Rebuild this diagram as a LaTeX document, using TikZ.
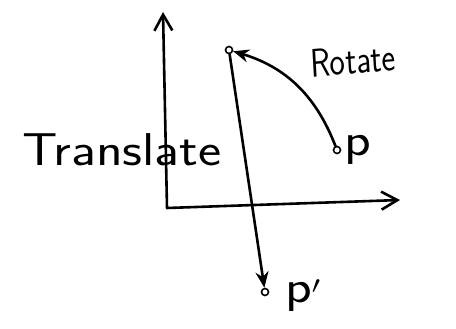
\documentclass[tikz,border=0pt]{standalone}
\usetikzlibrary{arrows.meta}
\begin{document}
\begin{tikzpicture}[x=1pt, y=-1pt, line width=2.6pt, line cap=round,
    dot/.style={circle, draw, inner sep=0pt, minimum size=7pt, line width=1.6pt},
    hand/.style={font=\sffamily\fontsize{46}{50}\selectfont, xscale=1.2}]
  \useasboundingbox (0,0) rectangle (456,329);
  % axes
  \coordinate (O) at (167,208);
  \coordinate (ytip) at (163,12);
  \coordinate (xtip) at (400,200);
  \draw[-{Straight Barb[length=16pt,width=18pt]}] (O) -- (ytip);
  \draw[-{Straight Barb[length=16pt,width=18pt]}] (O) -- (xtip);
  % points
  \node[dot] (p) at (337,150) {};
  \node[dot] (q) at (229,50) {};
  \node[dot] (pp) at (265,292) {};
  \draw[-{Stealth[length=16pt,width=13pt]}] (p) to[bend right=26] (q);
  \draw[-{Stealth[length=16pt,width=13pt]}] (q) -- (pp);
  % labels
  \node[hand] (tr) at (122,150) {Translate};
  \node[hand, font=\sffamily\fontsize{40}{44}\selectfont, xscale=0.68, rotate=4] (ro) at (353,60) {Rotate};
  \node[hand] (pl) at (358,150) {p};
  \node[hand] (ppl) at (303,296) {p$'$};
\end{tikzpicture}
\end{document}
